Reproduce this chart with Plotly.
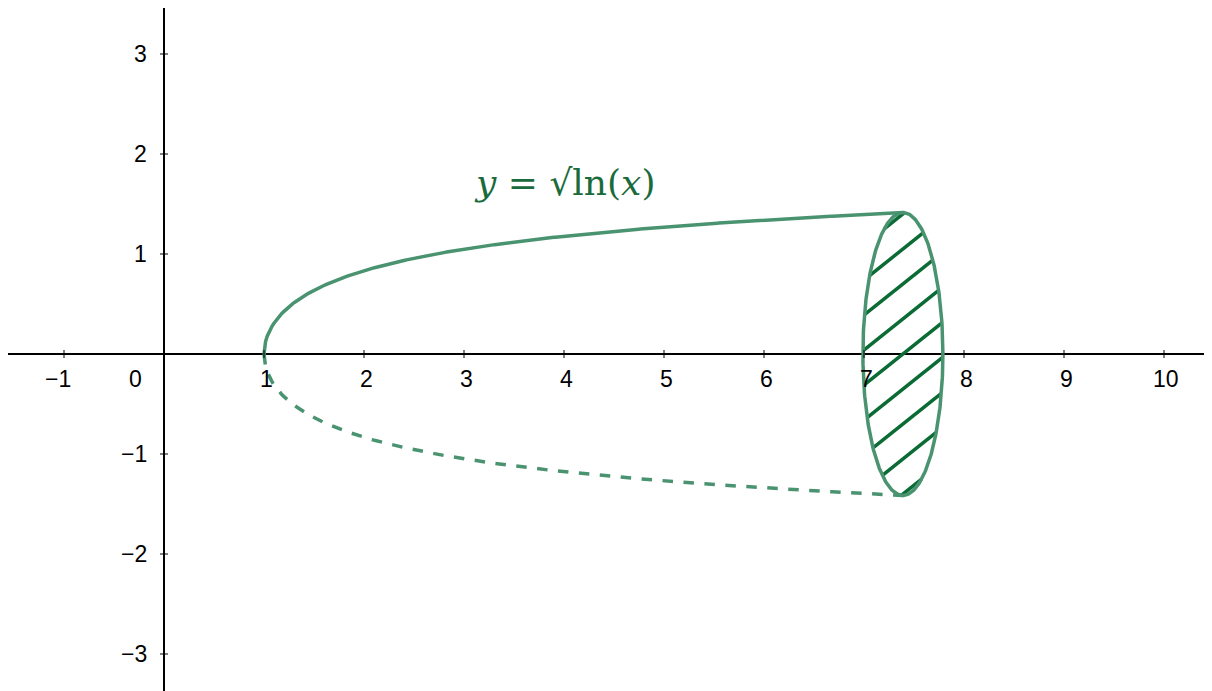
import numpy as np
import plotly.graph_objects as go

x_ticks = [-1, 1, 2, 3, 4, 5, 6, 7, 8, 9, 10]
y_ticks = [-3, -2, -1, 1, 2, 3]
x_start, x_end = 1.0, float(np.exp(2))
ellipse_rx = 0.4
hatch_offsets = [-1.75, -1.4, -1.05, -0.7, -0.35, 0.0, 0.35, 0.7, 1.05, 1.4, 1.75]
hatch_slope = 0.8

green = "#4a9370"
dark = "#0b6b34"

xs = np.linspace(x_start, x_end, 400)
ys = np.sqrt(np.log(xs))
ry = np.sqrt(np.log(x_end))
cx = x_end

fig = go.Figure()
fig.add_trace(go.Scatter(x=xs, y=ys, mode="lines", line=dict(color=green, width=3.5)))
fig.add_trace(go.Scatter(x=xs, y=-ys, mode="lines", line=dict(color=green, width=3.5, dash="dash")))

for c in hatch_offsets:
    m = hatch_slope
    a = 1/ellipse_rx**2 + m**2/ry**2
    b = 2*m*c/ry**2
    cc = c**2/ry**2 - 1
    disc = b*b - 4*a*cc
    if disc <= 0:
        continue
    u1 = (-b - np.sqrt(disc))/(2*a)
    u2 = (-b + np.sqrt(disc))/(2*a)
    fig.add_trace(go.Scatter(x=[cx+u1, cx+u2], y=[m*u1+c, m*u2+c], mode="lines",
                             line=dict(color=dark, width=3.5)))

t = np.linspace(0, 2*np.pi, 300)
fig.add_trace(go.Scatter(x=cx+ellipse_rx*np.cos(t), y=ry*np.sin(t), mode="lines",
                         line=dict(color=green, width=3.5)))

shapes = []
for v in x_ticks:
    shapes.append(dict(type="line", x0=v, x1=v, y0=-0.04, y1=0.04, line=dict(color="black", width=1)))
for v in y_ticks:
    shapes.append(dict(type="line", x0=-0.04, x1=0.04, y0=v, y1=v, line=dict(color="black", width=1)))

font = dict(size=23, color="black", family="Arial")
ann = []
for v in x_ticks:
    ann.append(dict(x=v, y=-0.1, text=str(v).replace("-", "−"), showarrow=False,
                    xanchor="center", yanchor="top", xshift=-6 if v < 0 else 2, font=font))
ann.append(dict(x=-0.2, y=-0.1, text="0", showarrow=False, xanchor="right", yanchor="top", font=font))
for v in y_ticks:
    ann.append(dict(x=-0.15, y=v, text=str(v).replace("-", "−"), showarrow=False, xanchor="right",
                    yanchor="middle", font=font))
ann.append(dict(x=4.0, y=1.72, text="<i>y</i> = √ln(<i>x</i>)",
                showarrow=False, font=dict(size=36, color="#1a6b3c", family="DejaVu Serif")))

fig.update_layout(
    width=1212, height=691, margin=dict(l=0, r=0, t=0, b=0),
    plot_bgcolor="white", paper_bgcolor="white", showlegend=False,
    shapes=shapes, annotations=ann,
    xaxis=dict(range=[-1.56, 10.56], showgrid=False, showticklabels=False, zeroline=True,
               zerolinecolor="black", zerolinewidth=1.5, ticks=""),
    yaxis=dict(range=[-3.45, 3.46], showgrid=False, showticklabels=False, zeroline=True,
               zerolinecolor="black", zerolinewidth=1.5, ticks=""),
)
fig.write_html("out.html")
